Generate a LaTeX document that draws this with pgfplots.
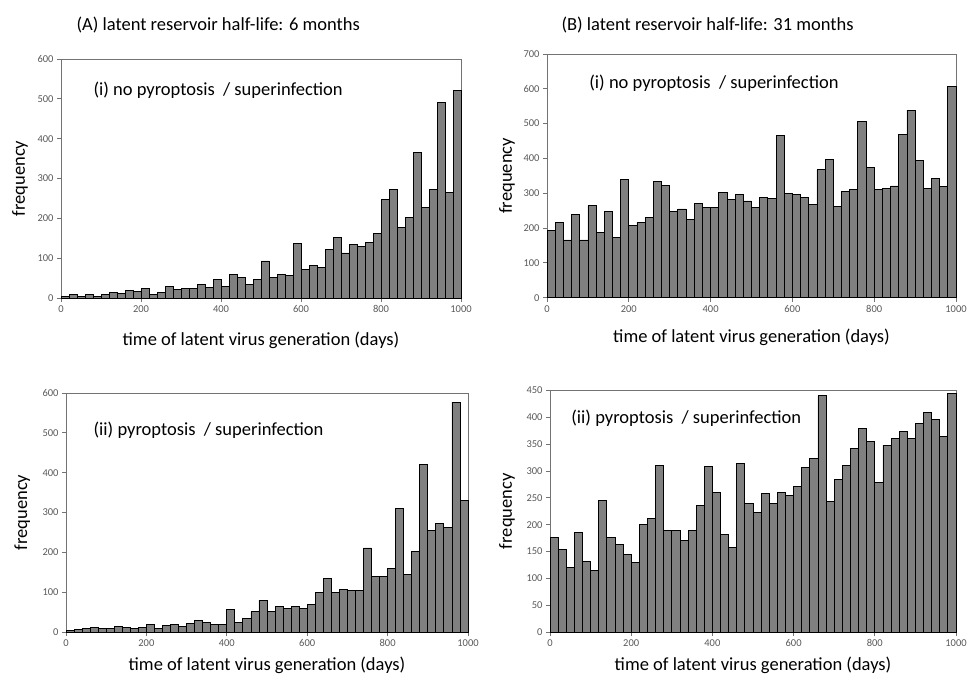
\documentclass[border=0pt]{standalone}
\usepackage{pgfplots}
\pgfplotsset{compat=1.18}
\usepackage{pgfplotstable}
\usepackage{fontspec}
\setmainfont{Carlito}

\pgfplotstableread{
x a1 b1 a2 b2
0 4 193 3 177
20 8 216 6 153
40 4 166 10 121
60 8 238 12 185
80 4 166 8 132
100 8 264 10 114
120 15 187 15 245
140 11 247 12 176
160 18 173 10 163
180 16 339 12 145
200 23 207 18 130
220 10 216 10 201
240 13 231 16 211
260 29 335 19 311
280 21 322 15 189
300 23 247 21 190
320 23 255 28 171
340 33 225 23 190
360 27 272 19 235
380 46 258 18 309
400 29 260 57 260
420 58 303 24 181
440 52 281 33 157
460 33 297 52 314
480 46 278 80 239
500 93 258 52 222
520 51 288 64 259
540 59 284 58 239
560 57 466 64 260
580 137 299 59 254
600 72 296 70 271
620 81 288 99 307
640 77 268 135 324
660 123 368 100 440
680 153 398 106 243
700 113 263 104 285
720 134 305 104 311
740 129 310 211 342
760 140 505 140 380
780 161 374 139 355
800 247 312 159 278
820 273 314 310 348
840 177 321 145 361
860 203 470 202 373
880 365 539 421 361
900 228 394 255 388
920 273 315 273 409
940 491 342 263 396
960 265 319 577 365
980 521 606 331 445
1000 521 606 331 445
}\hist

\newcommand{\bigtxt}{\fontsize{18.5bp}{22bp}\selectfont}
\newcommand{\ticksz}{\fontsize{10.5bp}{12bp}\selectfont}

\pgfplotsset{panel/.style={
  scale only axis, anchor=south west,
  xmin=0, xmax=1000, ymin=0, enlargelimits=false,
  xtick={0,200,...,1000},
  tick pos=left, tick align=outside, major tick length=4bp,
  axis line style={black!55, line width=0.8bp},
  tick style={black!55, line width=0.8bp},
  tick label style={font=\ticksz, text=black!65},
  /pgf/number format/assume math mode=true,
  /pgf/number format/1000 sep={},
  scaled ticks=false,
  xlabel={time of latent virus generation (days)},
  ylabel={frequency},
  label style={font=\bigtxt},
  clip=false,
}}
\pgfplotsset{bars/.style={ybar interval, fill=black!50, draw=black, line width=0.8bp}}

\begin{document}
\begin{tikzpicture}
\useasboundingbox (0,0) rectangle (971bp,677bp);

\node[anchor=west, font=\bigtxt] at (73bp,652bp) {(A) latent reservoir half-life: 6 months};
\node[anchor=west, font=\bigtxt] at (558bp,652bp) {(B) latent reservoir half-life: 31 months};

% A(i)
\begin{axis}[panel, at={(61bp,379bp)}, width=400bp, height=239bp,
  ymax=600, ytick={0,100,...,600},
  ylabel style={at={(axis description cs:-0.1025,0.5)}, anchor=center},
  xlabel style={at={(axis description cs:0.5,-0.176)}, anchor=center}]
\addplot[bars] table[x=x,y=a1]{\hist};
\node[anchor=west, font=\bigtxt] at (rel axis cs:0.0725,0.87) {(i) no pyroptosis\ \ / superinfection};
\end{axis}

% B(i)
\begin{axis}[panel, at={(547bp,379.3bp)}, width=409bp, height=243.7bp,
  ymax=700, ytick={0,100,...,700},
  ylabel style={at={(axis description cs:-0.098,0.5)}, anchor=center},
  xlabel style={at={(axis description cs:0.5,-0.164)}, anchor=center}]
\addplot[bars] table[x=x,y=b1]{\hist};
\node[anchor=west, font=\bigtxt] at (rel axis cs:0.095,0.881) {(i) no pyroptosis\ \ / superinfection};
\end{axis}

% A(ii)
\begin{axis}[panel, at={(66bp,45bp)}, width=402bp, height=239bp,
  ymax=600, ytick={0,100,...,600},
  ylabel style={at={(axis description cs:-0.109,0.5)}, anchor=center},
  xlabel style={at={(axis description cs:0.5,-0.138)}, anchor=center, inner sep=1bp}]
\addplot[bars] table[x=x,y=a2]{\hist};
\node[anchor=west, font=\bigtxt] at (rel axis cs:0.06,0.845) {(ii) pyroptosis\ \ / superinfection};
\end{axis}

% B(ii)
\begin{axis}[panel, at={(550bp,45bp)}, width=406bp, height=241.5bp,
  ymax=450, ytick={0,50,...,450},
  ylabel style={at={(axis description cs:-0.106,0.5)}, anchor=center},
  xlabel style={at={(axis description cs:0.5,-0.137)}, anchor=center, inner sep=1bp}]
\addplot[bars] table[x=x,y=b2]{\hist};
\node[anchor=west, font=\bigtxt] at (rel axis cs:0.044,0.886) {(ii) pyroptosis\ \ / superinfection};
\end{axis}
\end{tikzpicture}
\end{document}
